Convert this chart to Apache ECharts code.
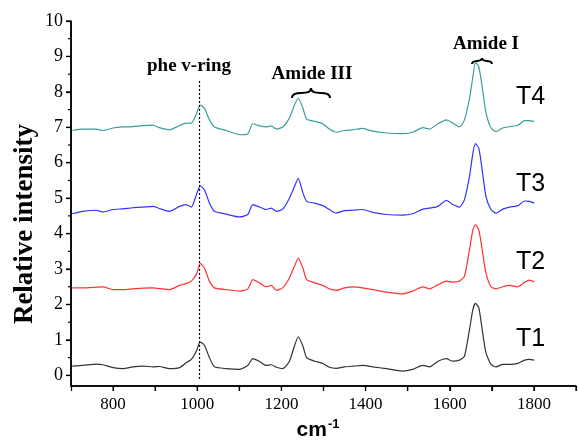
<!DOCTYPE html>
<html>
<head>
<meta charset="utf-8">
<script src="https://cdn.jsdelivr.net/npm/echarts@6/dist/echarts.min.js"></script>
<style>
    html, body { margin: 0; padding: 0; background: #fff; }
    #chart { width: 580px; height: 445px; }
</style>
</head>
<body>
<div id="chart"></div>
<script>
// Nombres d'onde (cm-1) communs aux quatre spectres
const wavenumbers = [703, 728, 760, 776, 800, 823, 847, 871, 895, 910, 934, 958, 974, 986, 998, 1007, 1017, 1029, 1041, 1069,
    1101, 1120, 1132, 1148, 1164, 1176, 1188, 1203, 1219, 1231, 1240, 1251, 1260, 1279, 1298, 1314, 1330, 1350, 1370, 1393,
    1417, 1449, 1488, 1512, 1536, 1552, 1572, 1592, 1607, 1623, 1635, 1647, 1655, 1661, 1669, 1677, 1686, 1698, 1710, 1726,
    1742, 1762, 1778, 1789, 1801];

// Intensités relatives (spectres décalés verticalement)
const t1 = [0.26, 0.28, 0.32, 0.30, 0.22, 0.19, 0.24, 0.26, 0.24, 0.25, 0.19, 0.22, 0.36, 0.45, 0.69, 0.94, 0.85, 0.50, 0.24, 0.19,
    0.17, 0.28, 0.47, 0.39, 0.28, 0.30, 0.23, 0.19, 0.40, 0.83, 1.09, 0.83, 0.50, 0.40, 0.34, 0.23, 0.20, 0.24, 0.26, 0.28,
    0.24, 0.19, 0.12, 0.17, 0.28, 0.24, 0.40, 0.47, 0.40, 0.43, 0.54, 1.30, 1.86, 2.03, 1.91, 1.30, 0.64, 0.31, 0.24, 0.31,
    0.31, 0.34, 0.43, 0.45, 0.43];
const t2 = [2.47, 2.47, 2.49, 2.50, 2.42, 2.42, 2.44, 2.46, 2.47, 2.45, 2.42, 2.54, 2.59, 2.66, 2.85, 3.16, 3.03, 2.66, 2.47, 2.42,
    2.38, 2.44, 2.70, 2.61, 2.50, 2.54, 2.40, 2.47, 2.75, 3.08, 3.31, 3.03, 2.70, 2.61, 2.54, 2.44, 2.40, 2.47, 2.50, 2.47,
    2.42, 2.35, 2.30, 2.38, 2.50, 2.44, 2.56, 2.66, 2.63, 2.66, 2.80, 3.55, 4.11, 4.25, 4.11, 3.55, 2.89, 2.50, 2.44, 2.50,
    2.54, 2.50, 2.63, 2.69, 2.64];
const t3 = [4.56, 4.63, 4.66, 4.61, 4.68, 4.70, 4.73, 4.75, 4.77, 4.71, 4.63, 4.77, 4.82, 4.75, 5.10, 5.35, 5.24, 4.86, 4.63, 4.55,
    4.47, 4.54, 4.82, 4.75, 4.68, 4.72, 4.63, 4.69, 5.00, 5.33, 5.56, 5.15, 4.91, 4.86, 4.79, 4.68, 4.58, 4.65, 4.66, 4.68,
    4.60, 4.54, 4.52, 4.56, 4.69, 4.72, 4.77, 4.94, 4.82, 4.75, 4.96, 5.62, 6.27, 6.54, 6.41, 5.80, 5.05, 4.68, 4.58, 4.69,
    4.75, 4.79, 4.92, 4.91, 4.86];
const t4 = [6.91, 6.95, 6.95, 6.91, 6.98, 7.01, 7.02, 7.05, 7.06, 6.99, 6.93, 7.05, 7.12, 7.12, 7.38, 7.63, 7.54, 7.21, 7.01, 6.91,
    6.79, 6.82, 7.10, 7.04, 7.01, 7.04, 6.95, 7.01, 7.26, 7.63, 7.82, 7.54, 7.23, 7.17, 7.10, 6.95, 6.86, 6.91, 6.93, 6.97,
    6.89, 6.84, 6.82, 6.86, 6.99, 6.95, 7.10, 7.21, 7.12, 7.01, 7.21, 7.82, 8.43, 8.83, 8.71, 8.15, 7.42, 6.98, 6.88, 6.98,
    7.02, 7.06, 7.19, 7.19, 7.16];

const seriesNames = ["T1", "T2", "T3", "T4"];

// Graduations
const xTickLabels = [800, 1000, 1200, 1400, 1600, 1800];
const xTicks = [800, 900, 1000, 1100, 1200, 1300, 1400, 1500, 1600, 1700, 1800, 1900];
const yTickLabels = [0, 1, 2, 3, 4, 5, 6, 7, 8, 9, 10];
const yMinorTicks = [0.5, 1.5, 2.5, 3.5, 4.5, 5.5, 6.5, 7.5, 8.5, 9.5];
const xRange = [700, 1900];
const yRange = [-0.3, 10];

// Position de la bande phe (trait pointillé)
const pheRing = 1005;

const serif = "'Liberation Serif', 'Times New Roman', serif";
const sans = "'Liberation Sans', Arial, sans-serif";

const grid = { left: 71, right: 4, top: 21, bottom: 59 };

function pairs(ys)
{
    return wavenumbers.map((x, i) => [x, ys[i]]);
}

function spectrum(name, ys, color)
{
    return {
        name,
        type: "line",
        data: pairs(ys),
        showSymbol: false,
        symbol: "none",
        smooth: 0.2,
        lineStyle: { color, width: 1.2 },
        z: 3
    };
}

// Accolade horizontale (ouverte vers le bas), faite de deux courbes de Bézier
function brace(x, y, w, h)
{
    const m = x + w / 2;
    const style = { stroke: "#000", lineWidth: 2, fill: null };
    return [
        {
            type: "bezierCurve",
            shape: { x1: x, y1: y + h, cpx1: x, cpy1: y + h * 0.1, cpx2: m, cpy2: y + h * 0.9, x2: m, y2: y },
            style
        },
        {
            type: "bezierCurve",
            shape: { x1: m, y1: y, cpx1: m, cpy1: y + h * 0.9, cpx2: x + w, cpy2: y + h * 0.1, x2: x + w, y2: y + h },
            style
        }
    ];
}

function label(text, x, y, font, size, align)
{
    return {
        type: "text",
        x,
        y,
        style: {
            text,
            fontFamily: font,
            fontSize: size,
            fontWeight: font === serif ? "bold" : "normal",
            fill: "#000",
            align: align || "center",
            textAlign: align || "center",
            verticalAlign: "middle",
            textVerticalAlign: "middle"
        }
    };
}

// Trait plein dessiné comme un rectangle rempli
function bar(x, y, w, h)
{
    return {
        type: "rect",
        shape: { x, y, width: w, height: h },
        style: { fill: "#000" },
        z: 10
    };
}

const chart = echarts.init(document.getElementById("chart"));

const t1Series = spectrum("T1", t1, "#333333");
t1Series.markLine = {
    silent: true,
    symbol: "none",
    label: { show: false },
    lineStyle: { color: "#000", type: [2, 2], width: 1.2 },
    data: [[{ coord: [pheRing, -0.1] }, { coord: [pheRing, 8.33] }]]
};

// Axe horizontal : étiquette tous les 200 cm-1
const xAxis = {
    type: "value",
    min: xRange[0],
    max: xRange[1],
    interval: 100,
    axisLine: { show: true, onZero: false, lineStyle: { color: "#000", width: 1.5 } },
    axisTick: { show: true, length: 5, lineStyle: { color: "#000", width: 1.2 } },
    axisLabel: {
        color: "#000",
        fontFamily: serif,
        fontSize: 17,
        margin: 10,
        formatter: (v) => (xTickLabels.includes(v) ? String(v) : "")
    },
    splitLine: { show: false }
};

const yAxis = {
    type: "value",
    min: yRange[0],
    max: yRange[1],
    axisLine: { show: true, onZero: false, lineStyle: { color: "#000", width: 1.5 } },
    axisTick: { show: true, customValues: yTickLabels, length: 5, lineStyle: { color: "#000", width: 1.2 } },
    axisLabel: { customValues: yTickLabels, color: "#000", fontFamily: serif, fontSize: 18, margin: 8 },
    splitLine: { show: false }
};

chart.setOption({
    animation: false,
    grid,
    xAxis,
    yAxis,
    series: [
        t1Series,
        spectrum("T2", t2, "#ff3333"),
        spectrum("T3", t3, "#3333ff"),
        spectrum("T4", t4, "#3a9e9a")
    ]
});

// Conversion valeur -> pixel par les échelles du graphique (repli sur la grille si besoin)
function toPixel(axisKey, v, range, from, to)
{
    const p = chart.convertToPixel({ [axisKey]: 0 }, v);
    if (Number.isFinite(p))
    {
        return p;
    }
    return from + (v - range[0]) / (range[1] - range[0]) * (to - from);
}

const W = chart.getWidth();
const H = chart.getHeight();
const px = (v) => toPixel("xAxisIndex", v, xRange, grid.left, W - grid.right);
const py = (v) => toPixel("yAxisIndex", v, yRange, H - grid.bottom, grid.top);
const x0 = px(xRange[0]);
const x1 = px(xRange[1]);
const y0 = py(yRange[0]);
const y1 = py(yRange[1]);

const axisMarks = [
    bar(x0, y0 - 0.75, x1 - x0, 1.5),
    bar(x0 - 0.75, y1, 1.5, y0 - y1),
    ...xTicks.map((v) => bar(px(v) - 0.6, y0, 1.2, 5)),
    ...yTickLabels.map((v) => bar(x0 - 5, py(v) - 0.6, 5, 1.2)),
    ...yMinorTicks.map((v) => bar(x0 - 3, py(v) - 0.6, 3, 1.2))
];

chart.setOption({
    graphic: [
        ...axisMarks,
        label("phe v-ring", 189, 66, serif, 19),
        label("Amide III", 312, 74, serif, 19),
        label("Amide I", 486, 44, serif, 19),
        ...brace(292, 88, 38, 10),
        ...brace(472, 58, 20, 6),
        label(seriesNames[3], 516, 97, sans, 25, "left"),
        label(seriesNames[2], 516, 184, sans, 25, "left"),
        label(seriesNames[1], 516, 262, sans, 25, "left"),
        label(seriesNames[0], 516, 339, sans, 25, "left"),
        Object.assign(label("Relative intensity", 25, 224, serif, 27), { rotation: Math.PI / 2 }),
        {
            type: "text",
            x: 318,
            y: 430,
            style: {
                text: "{a|cm}{b|-1}",
                align: "center",
                textAlign: "center",
                verticalAlign: "middle",
                textVerticalAlign: "middle",
                rich: {
                    a: { fontFamily: sans, fontSize: 21, fontWeight: "bold", fill: "#000" },
                    b: { fontFamily: sans, fontSize: 13, fontWeight: "bold", fill: "#000", padding: [0, 0, 12, 1] }
                }
            }
        }
    ]
});
</script>
</body>
</html>
